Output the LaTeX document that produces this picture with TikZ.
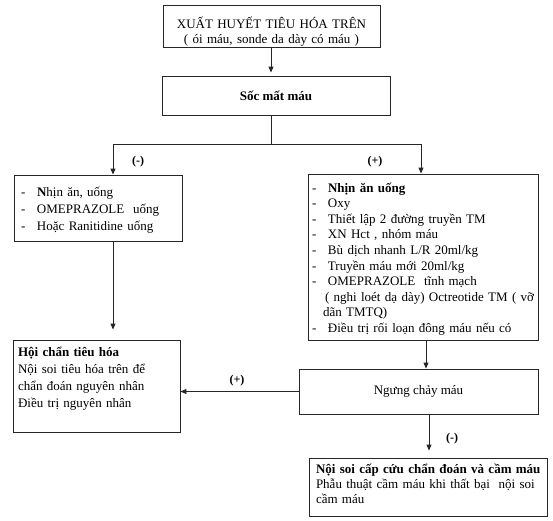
\documentclass[tikz,border=0pt]{standalone}
\usepackage{fontspec}
\setmainfont{Liberation Serif}
\usetikzlibrary{arrows.meta}
\newcommand{\dashitem}[1]{\makebox[16pt][l]{-}#1}
\tikzset{
  box/.style={draw=black!85, line width=0.9pt, rectangle, inner xsep=0pt, inner ysep=0pt,
    font=\fontsize{13}{15.6}\selectfont},
  conn/.style={line width=0.9pt, draw=black!85},
  arr/.style={conn, -{Triangle[length=6pt,width=5pt]}},
  lbl/.style={font=\fontsize{12}{14}\selectfont\bfseries, inner sep=0pt},
}
\begin{document}
\begin{tikzpicture}[x=1pt,y=-1pt]
\useasboundingbox (0,0) rectangle (553,520);

\node[box, minimum width=217pt, minimum height=42pt, text width=217pt, align=center,
  text height=23pt, text depth=19pt, font=\fontsize{13}{15}\selectfont] (b1) at (271.5,26)
  {XUẤT HUYẾT TIÊU HÓA TRÊN\\( ói máu, sonde da dày có máu )};

\node[box, minimum width=228pt, minimum height=39pt] (b2) at (276,95.5)
  {\bfseries Sốc mất máu};

\node[box, minimum width=168pt, minimum height=66pt, text width=154pt, inner xsep=7pt,
  align=left, text height=21pt, text depth=45pt, font=\fontsize{13}{17}\selectfont] (L) at (98,208)
  {\dashitem{\textbf{N}hịn ăn, uống}\\
   \dashitem{OMEPRAZOLE\ \ uống}\\
   \dashitem{Hoặc Ranitidine uống}};

\node[box, minimum width=230pt, minimum height=166pt, text width=222pt, inner xsep=4pt,
  align=left, text height=18pt, text depth=148pt] (R) at (423,257)
  {\dashitem{\textbf{Nhịn ăn uống}}\\
   \dashitem{Oxy}\\
   \dashitem{Thiết lập 2 đường truyền TM}\\
   \dashitem{XN Hct , nhóm máu}\\
   \dashitem{Bù dịch nhanh L/R 20ml/kg}\\
   \dashitem{Truyền máu mới 20ml/kg}\\
   \dashitem{OMEPRAZOLE\ \ tĩnh mạch}\\
   \mbox{\hspace*{13pt}( nghi loét dạ dày) Octreotide TM ( vỡ}\\
   \hspace*{11pt}dãn TMTQ)\\
   \dashitem{Điều trị rối loạn đông máu nếu có}};

\node[box, minimum width=167pt, minimum height=92pt, text width=157pt, inner xsep=5pt,
  align=left, text height=16pt, text depth=76pt, font=\fontsize{13}{17.3}\selectfont] (H) at (96.5,386)
  {\textbf{Hội chẩn tiêu hóa}\\
   Nội soi tiêu hóa trên để\\
   chẩn đoán nguyên nhân\\
   Điều trị nguyên nhân};

\node[box, minimum width=239pt, minimum height=45pt] (N) at (418.5,391.5)
  {Ngưng chảy máu};

\node[box, minimum width=238pt, minimum height=58pt, text width=224pt, inner xsep=7pt,
  align=left, text height=15pt, text depth=43pt, font=\fontsize{13}{15}\selectfont] (F) at (428,487)
  {\mbox{\textbf{Nội soi cấp cứu chẩn đoán và cầm máu}}\\
   Phẫu thuật cầm máu khi thất bại\ \ nội soi\\
   cầm máu};

\coordinate (jm) at (271,144);
\coordinate (jl) at (113,144);
\coordinate (jr) at (421,144);
\coordinate (cR) at (426,350);
\coordinate (cF) at (429,430);

\draw[arr, shorten >=3pt] (b1.south -| jm) -- (b2.north -| jm);
\draw[conn] (b2.south -| jm) -- (jm);
\draw[conn] (jl) -- (jr);
\draw[arr] (jl) -- (jl |- L.north);
\draw[arr] (jr) -- (jr |- R.north);
\draw[arr, shorten >=10pt] (L.south -| jl) -- (H.north -| jl);
\draw[arr] (R.south -| cR) -- (N.north -| cR);
\draw[arr] (N.west) -- (H.east |- N.west);
\draw[arr, shorten >=7pt] (N.south -| cF) -- (F.north -| cF);

\node[lbl] (l1) at (138,162) {(-)};
\node[lbl] (l2) at (375,162) {(+)};
\node[lbl] (l3) at (237,381) {(+)};
\node[lbl] (l4) at (452,439) {(-)};
\end{tikzpicture}
\end{document}
